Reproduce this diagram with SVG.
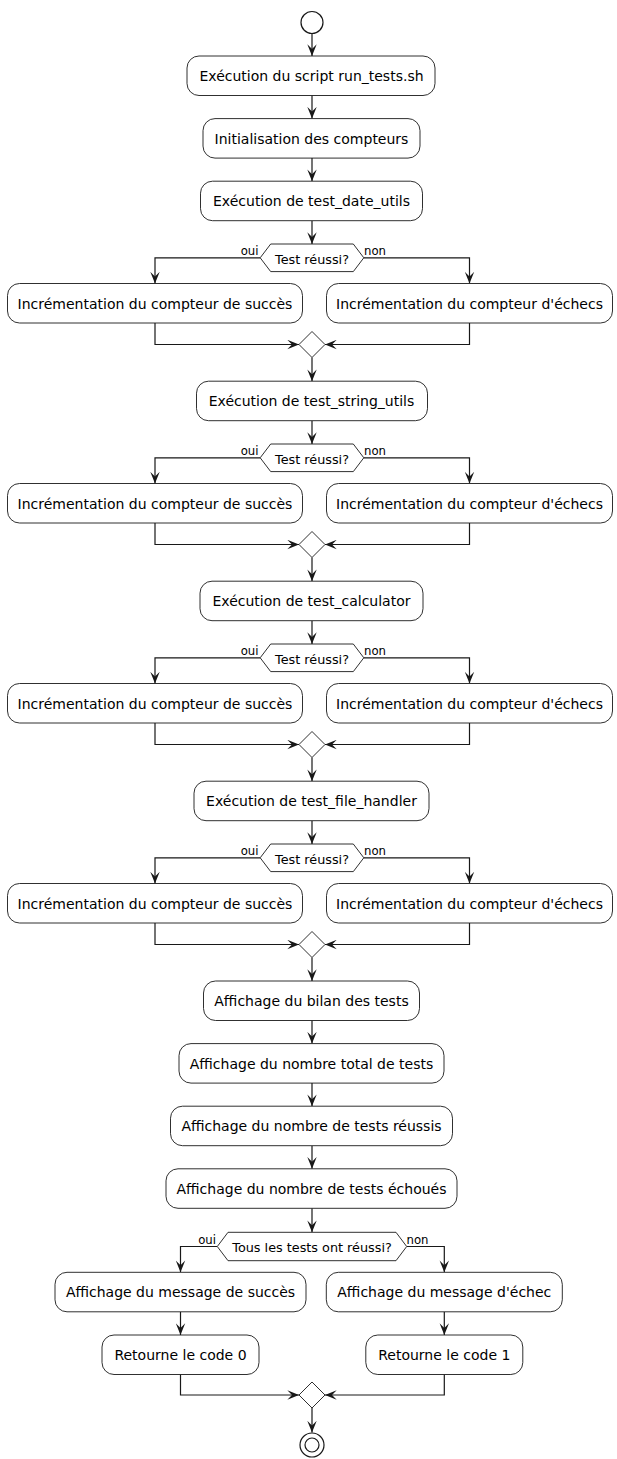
<svg xmlns="http://www.w3.org/2000/svg" width="617" height="1459" viewBox="0 0 617 1459">
<style>
  .act { fill: #FFFFFF; stroke: #181818; stroke-width: 0.9; }
  .dec { fill: #FFFFFF; stroke: #181818; stroke-width: 0.9; }
  .t { font-family: "DejaVu Sans", Verdana, sans-serif; font-size: 14px; fill: #000000; text-anchor: middle; }
  .td { font-family: "DejaVu Sans", Verdana, sans-serif; font-size: 12.8px; fill: #000000; text-anchor: middle; }
  .lbl { font-family: "DejaVu Sans", Verdana, sans-serif; font-size: 11.7px; fill: #000000; }
  .end { text-anchor: end; }
  .flow { fill: none; stroke: #181818; stroke-width: 1.2; marker-end: url(#ah); }
  .plain { fill: none; stroke: #181818; stroke-width: 1.2; }
</style>
<defs>
  <marker id="ah" viewBox="-12 -5 13 10" refX="0" refY="0" markerWidth="13" markerHeight="10" orient="auto" markerUnits="userSpaceOnUse">
    <path d="M0,0 L-11.7,-4.7 L-7,0 L-11.7,4.7 Z" fill="#181818"/>
  </marker>
</defs>
<rect width="617" height="1459" fill="#FFFFFF"/>

<!-- connectors -->
<g id="connectors">
  <path class="flow" d="M312,33.5 V56"/>
  <path class="flow" d="M312,95.5 V118.6"/>
  <path class="flow" d="M312,158.1 V181.2"/>
  <path class="flow" d="M312,220.7 V244"/>
  <!-- block 1 -->
  <path class="flow" d="M260.2,257.8 H155 V283.5"/>
  <path class="flow" d="M363.8,257.8 H469.5 V283.5"/>
  <path class="flow" d="M155,323 V344.5 H299"/>
  <path class="flow" d="M469.5,323 V344.5 H325"/>
  <path class="flow" d="M312,357.5 V381.2"/>
  <path class="flow" d="M312,420.7 V444"/>
  <!-- block 2 -->
  <path class="flow" d="M260.2,457.8 H155 V483.5"/>
  <path class="flow" d="M363.8,457.8 H469.5 V483.5"/>
  <path class="flow" d="M155,523 V544.5 H299"/>
  <path class="flow" d="M469.5,523 V544.5 H325"/>
  <path class="flow" d="M312,557.5 V581.2"/>
  <path class="flow" d="M312,620.7 V644"/>
  <!-- block 3 -->
  <path class="flow" d="M260.2,657.8 H155 V683.5"/>
  <path class="flow" d="M363.8,657.8 H469.5 V683.5"/>
  <path class="flow" d="M155,723 V744.5 H299"/>
  <path class="flow" d="M469.5,723 V744.5 H325"/>
  <path class="flow" d="M312,757.5 V781.2"/>
  <path class="flow" d="M312,820.7 V844"/>
  <!-- block 4 -->
  <path class="flow" d="M260.2,857.8 H155 V883.5"/>
  <path class="flow" d="M363.8,857.8 H469.5 V883.5"/>
  <path class="flow" d="M155,923 V944.5 H299"/>
  <path class="flow" d="M469.5,923 V944.5 H325"/>
  <path class="flow" d="M312,957.5 V981"/>
  <!-- summary -->
  <path class="flow" d="M312,1020.5 V1043.6"/>
  <path class="flow" d="M312,1083.1 V1106.2"/>
  <path class="flow" d="M312,1145.7 V1168.8"/>
  <path class="flow" d="M312,1208.3 V1232.3"/>
  <path class="flow" d="M217.3,1246.5 H180.5 V1272.3"/>
  <path class="flow" d="M406.7,1246.5 H444.3 V1272.3"/>
  <path class="flow" d="M180.5,1311.8 V1335"/>
  <path class="flow" d="M444.3,1311.8 V1335"/>
  <path class="flow" d="M180.5,1374.5 V1395 H299"/>
  <path class="flow" d="M444.3,1374.5 V1395 H325"/>
  <path class="flow" d="M312,1408 V1432.5"/>
  <!-- branch labels -->
  <text class="lbl end" x="258.5" y="255">oui</text>
  <text class="lbl" x="364" y="255">non</text>
  <text class="lbl end" x="258.5" y="455">oui</text>
  <text class="lbl" x="364" y="455">non</text>
  <text class="lbl end" x="258.5" y="655">oui</text>
  <text class="lbl" x="364" y="655">non</text>
  <text class="lbl end" x="258.5" y="855">oui</text>
  <text class="lbl" x="364" y="855">non</text>
  <text class="lbl end" x="216" y="1243.5">oui</text>
  <text class="lbl" x="406.5" y="1243.5">non</text>
</g>

<g id="start"><circle cx="312" cy="22.5" r="11" fill="#FFFFFF" stroke="#181818" stroke-width="1.2"/></g>

<g id="run_tests"><rect class="act" x="187" y="56" width="248" height="39.5" rx="12"/><text class="t" x="311.5" y="81">Exécution du script run_tests.sh</text></g>
<g id="init"><rect class="act" x="203" y="118.6" width="217" height="39.5" rx="12"/><text class="t" x="311.5" y="143.6">Initialisation des compteurs</text></g>

<g id="exec_date"><rect class="act" x="200.5" y="181.2" width="222" height="39.5" rx="12"/><text class="t" x="311.5" y="206.2">Exécution de test_date_utils</text></g>
<g id="dec_date"><polygon class="dec" points="260.2,257.8 270.7,244 353.3,244 363.8,257.8 353.3,271.6 270.7,271.6"/><text class="td" x="312" y="263.6">Test réussi?</text></g>
<g id="ok_date"><rect class="act" x="7.5" y="283.5" width="295" height="39.5" rx="12"/><text class="t" x="155" y="308.5">Incrémentation du compteur de succès</text></g>
<g id="ko_date"><rect class="act" x="326.5" y="283.5" width="286" height="39.5" rx="12"/><text class="t" x="469.5" y="308.5">Incrémentation du compteur d'échecs</text></g>
<g id="merge_date"><polygon class="dec" points="312,331.5 325,344.5 312,357.5 299,344.5"/></g>

<g id="exec_string"><rect class="act" x="196.5" y="381.2" width="231" height="39.5" rx="12"/><text class="t" x="311.5" y="406.2">Exécution de test_string_utils</text></g>
<g id="dec_string"><polygon class="dec" points="260.2,457.8 270.7,444 353.3,444 363.8,457.8 353.3,471.6 270.7,471.6"/><text class="td" x="312" y="463.6">Test réussi?</text></g>
<g id="ok_string"><rect class="act" x="7.5" y="483.5" width="295" height="39.5" rx="12"/><text class="t" x="155" y="508.5">Incrémentation du compteur de succès</text></g>
<g id="ko_string"><rect class="act" x="326.5" y="483.5" width="286" height="39.5" rx="12"/><text class="t" x="469.5" y="508.5">Incrémentation du compteur d'échecs</text></g>
<g id="merge_string"><polygon class="dec" points="312,531.5 325,544.5 312,557.5 299,544.5"/></g>

<g id="exec_calc"><rect class="act" x="200" y="581.2" width="223" height="39.5" rx="12"/><text class="t" x="311.5" y="606.2">Exécution de test_calculator</text></g>
<g id="dec_calc"><polygon class="dec" points="260.2,657.8 270.7,644 353.3,644 363.8,657.8 353.3,671.6 270.7,671.6"/><text class="td" x="312" y="663.6">Test réussi?</text></g>
<g id="ok_calc"><rect class="act" x="7.5" y="683.5" width="295" height="39.5" rx="12"/><text class="t" x="155" y="708.5">Incrémentation du compteur de succès</text></g>
<g id="ko_calc"><rect class="act" x="326.5" y="683.5" width="286" height="39.5" rx="12"/><text class="t" x="469.5" y="708.5">Incrémentation du compteur d'échecs</text></g>
<g id="merge_calc"><polygon class="dec" points="312,731.5 325,744.5 312,757.5 299,744.5"/></g>

<g id="exec_file"><rect class="act" x="194" y="781.2" width="235" height="39.5" rx="12"/><text class="t" x="311.5" y="806.2">Exécution de test_file_handler</text></g>
<g id="dec_file"><polygon class="dec" points="260.2,857.8 270.7,844 353.3,844 363.8,857.8 353.3,871.6 270.7,871.6"/><text class="td" x="312" y="863.6">Test réussi?</text></g>
<g id="ok_file"><rect class="act" x="7.5" y="883.5" width="295" height="39.5" rx="12"/><text class="t" x="155" y="908.5">Incrémentation du compteur de succès</text></g>
<g id="ko_file"><rect class="act" x="326.5" y="883.5" width="286" height="39.5" rx="12"/><text class="t" x="469.5" y="908.5">Incrémentation du compteur d'échecs</text></g>
<g id="merge_file"><polygon class="dec" points="312,931.5 325,944.5 312,957.5 299,944.5"/></g>

<g id="bilan"><rect class="act" x="203.5" y="981" width="216" height="39.5" rx="12"/><text class="t" x="311.5" y="1006">Affichage du bilan des tests</text></g>
<g id="total"><rect class="act" x="179" y="1043.6" width="265" height="39.5" rx="12"/><text class="t" x="311.5" y="1068.6">Affichage du nombre total de tests</text></g>
<g id="reussis"><rect class="act" x="170.5" y="1106.2" width="282" height="39.5" rx="12"/><text class="t" x="311.5" y="1131.2">Affichage du nombre de tests réussis</text></g>
<g id="echoues"><rect class="act" x="166" y="1168.8" width="291" height="39.5" rx="12"/><text class="t" x="311.5" y="1193.8">Affichage du nombre de tests échoués</text></g>

<g id="dec_all"><polygon class="dec" points="217.3,1246.5 228,1232.3 396,1232.3 406.7,1246.5 396,1260.7 228,1260.7"/><text class="td" x="312" y="1252.4">Tous les tests ont réussi?</text></g>
<g id="msg_ok"><rect class="act" x="55" y="1272.3" width="251" height="39.5" rx="12"/><text class="t" x="180.5" y="1297.3">Affichage du message de succès</text></g>
<g id="msg_ko"><rect class="act" x="326.3" y="1272.3" width="236" height="39.5" rx="12"/><text class="t" x="444.3" y="1297.3">Affichage du message d'échec</text></g>
<g id="code0"><rect class="act" x="102" y="1335" width="157" height="39.5" rx="12"/><text class="t" x="180.5" y="1360">Retourne le code 0</text></g>
<g id="code1"><rect class="act" x="365.8" y="1335" width="157" height="39.5" rx="12"/><text class="t" x="444.3" y="1360">Retourne le code 1</text></g>
<g id="merge_all"><polygon class="dec" points="312,1382 325,1395 312,1408 299,1395"/></g>

<g id="stop">
  <circle cx="312" cy="1445" r="12" fill="#FFFFFF" stroke="#181818" stroke-width="1.2"/>
  <circle cx="312" cy="1445" r="7" fill="#FFFFFF" stroke="#181818" stroke-width="1.2"/>
</g>
</svg>
